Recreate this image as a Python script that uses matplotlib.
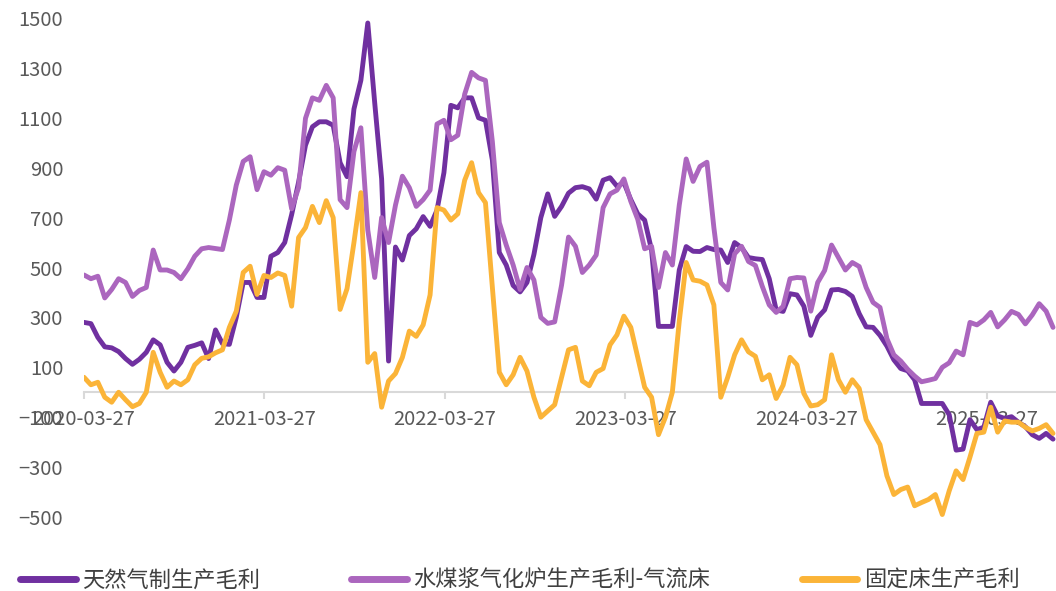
import numpy as np
import pandas as pd
import matplotlib
matplotlib.use('Agg')
import matplotlib.pyplot as plt
import matplotlib.dates as mdates

plt.rcParams['font.family'] = ['Noto Sans CJK SC', 'DejaVu Sans']

# biweekly readings, first observation 2020-03-27
start_date = '2020-03-27'

gas_margin = [
    280, 275, 220, 182, 178, 163, 135, 112, 132, 160,
    210, 190, 120, 85, 120, 180, 188, 198, 135, 250,
    195, 192, 300, 440, 440, 380, 380, 545, 560, 600,
    712, 842, 990, 1064, 1084, 1084, 1070, 920, 864, 1135,
    1250, 1480, 1160, 855, 125, 582, 530, 628, 655, 704,
    665, 730, 880, 1150, 1140, 1180, 1180, 1100, 1090, 930,
    560, 510, 428, 402, 440, 552, 700, 795, 705, 745,
    798, 820, 824, 815, 774, 850, 860, 826, 840, 772,
    715, 690, 570, 264, 264, 264, 490, 584, 565, 564,
    580, 572, 570, 520, 600, 580, 540, 535, 532, 455,
    330, 324, 395, 390, 345, 228, 300, 330, 410, 412,
    404, 384, 315, 262, 260, 228, 185, 130, 95, 86,
    50, -45, -45, -45, -45, -90, -232, -228, -110, -150,
    -140, -40, -95, -105, -98, -120, -138, -170, -185, -165,
    -188,
]

slurry_margin = [
    470, 455, 465, 378, 412, 455, 440, 384, 408, 420,
    570, 490, 490, 480, 455, 495, 545, 575, 580, 576,
    572, 690, 830, 925, 944, 812, 884, 870, 900, 890,
    735, 820, 1098, 1180, 1170, 1230, 1180, 772, 740, 965,
    1060, 650, 460, 700, 600, 750, 866, 820, 745, 772,
    810, 1075, 1090, 1012, 1030, 1195, 1282, 1260, 1250, 1004,
    680, 590, 510, 412, 500, 450, 300, 276, 282, 430,
    622, 585, 480, 510, 550, 740, 795, 810, 855, 765,
    693, 575, 585, 420, 560, 510, 750, 935, 845, 905,
    922, 660, 440, 410, 555, 585, 524, 508, 424, 350,
    320, 344, 455, 460, 458, 325, 440, 488, 590, 540,
    490, 520, 504, 420, 360, 340, 215, 150, 125, 92,
    65, 42, 48, 55, 100, 118, 165, 150, 280, 270,
    290, 320, 262, 290, 324, 312, 274, 310, 355, 325,
    260,
]

fixed_bed_margin = [
    60, 30, 40, -20, -40, 0, -30, -58, -45, 0,
    160, 80, 20, 45, 30, 50, 110, 136, 142, 158,
    170, 260, 325, 480, 505, 392, 468, 460, 478, 468,
    345, 620, 660, 745, 680, 768, 700, 332, 415, 600,
    800, 120, 155, -60, 45, 75, 140, 245, 224, 270,
    390, 740, 730, 690, 715, 850, 920, 800, 760, 420,
    80, 30, 70, 140, 85, -20, -100, -75, -50, 60,
    170, 180, 45, 26, 80, 95, 190, 230, 305, 260,
    140, 20, -20, -170, -100, 0, 285, 520, 450, 445,
    430, 350, -20, 60, 150, 210, 162, 144, 50, 70,
    -25, 28, 140, 110, -5, -55, -50, -30, 150, 50,
    0, 50, 15, -110, -160, -210, -335, -410, -390, -380,
    -455, -442, -430, -410, -490, -395, -315, -350, -260, -165,
    -160, -60, -160, -115, -120, -120, -140, -155, -145, -130,
    -165,
]

labels = ['天然气制生产毛利', '水煤浆气化炉生产毛利-气流床', '固定床生产毛利']
colors = ['#7030A0', '#AB66BE', '#FBB438']
yticks = list(range(-500, 1501, 200))
xtick_dates = ['2020-03-27', '2021-03-27', '2022-03-27',
               '2023-03-27', '2024-03-27', '2025-03-27']

dates = pd.date_range(start_date, periods=len(gas_margin), freq='14D')

fig = plt.figure(figsize=(10.56, 5.91), dpi=100)
ax = fig.add_axes([84 / 1056, 74 / 591, 972 / 1056, 499 / 591])

for series, label, color in zip([gas_margin, slurry_margin, fixed_bed_margin], labels, colors):
    ax.plot(dates, series, color=color, lw=3.5, label=label, zorder=3,
            solid_joinstyle='round', solid_capstyle='round')

ax.set_ylim(-500, 1500)
ax.set_yticks(yticks)
ax.set_xlim(dates[0], pd.Timestamp('2025-08-14'))
ax.set_xticks(pd.to_datetime(xtick_dates))
ax.xaxis.set_major_formatter(mdates.DateFormatter('%Y-%m-%d'))

for side in ['left', 'right', 'top']:
    ax.spines[side].set_visible(False)
ax.spines['bottom'].set_position(('data', 0))
ax.spines['bottom'].set_color('#D9D9D9')
ax.spines['bottom'].set_linewidth(1.5)

ax.tick_params(axis='x', length=5, width=1.5, color='#D9D9D9', pad=7,
               labelsize=14.5, labelcolor='#595959')
ax.tick_params(axis='y', length=0, pad=15, labelsize=14.5, labelcolor='#595959')

leg = fig.legend(loc='center left', bbox_to_anchor=(20 / 1056, 11 / 591), ncol=3,
                 frameon=False, fontsize=16, labelcolor='#404040',
                 handlelength=2.5, handletextpad=0.3, columnspacing=4.1,
                 borderaxespad=0, borderpad=0)
for h in leg.legend_handles:
    h.set_linewidth(5)

fig.savefig('out.png', dpi=100)
